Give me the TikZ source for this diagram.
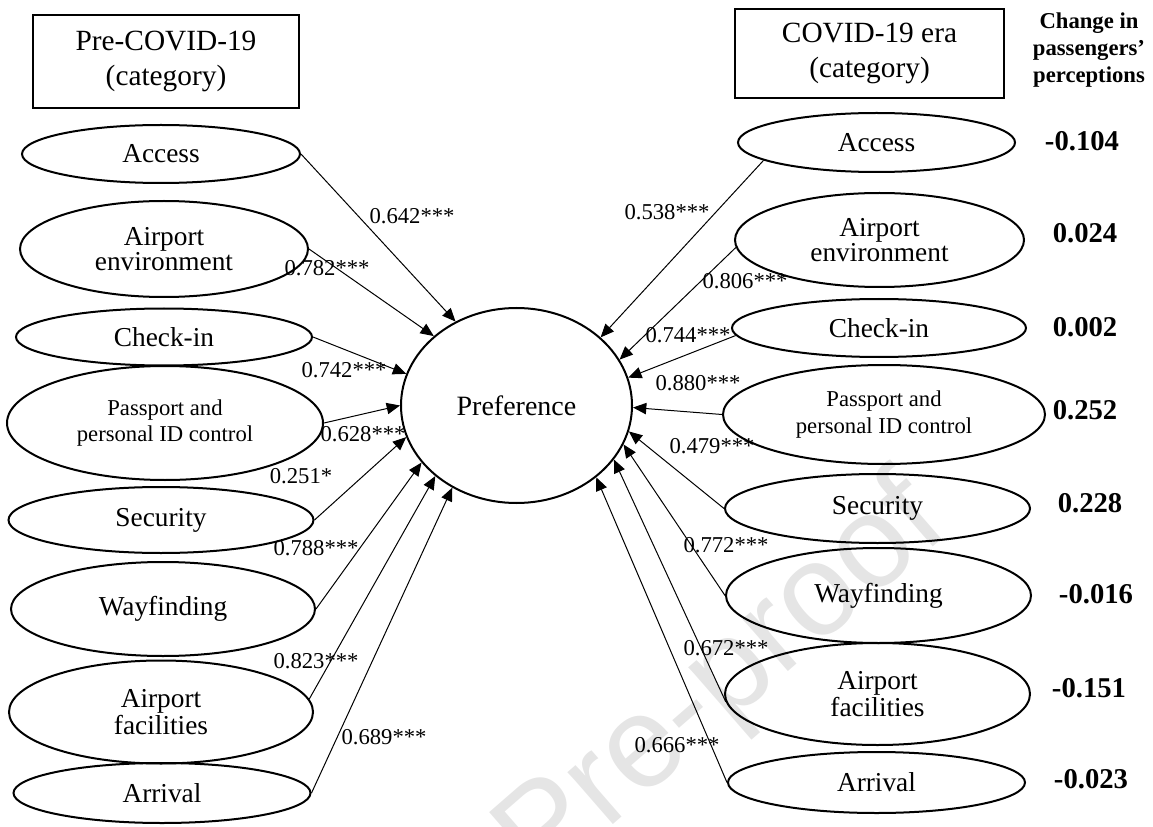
\documentclass[tikz,border=0pt]{standalone}
\usepackage{fontspec}
\setmainfont{Liberation Serif}
\newfontfamily\wmfont{Liberation Sans}
\usetikzlibrary{shapes.geometric,arrows.meta}

\begin{document}
\begin{tikzpicture}[x=0.75pt,y=-0.75pt,
  factor/.style={ellipse,draw,line width=1.5pt,inner sep=0pt,align=center,
    font=\fontsize{20.5pt}{17.5pt}\selectfont},
  small/.style={font=\fontsize{17pt}{20pt}\selectfont},
  central/.style={ellipse,draw,line width=1.5pt,inner sep=0pt,
    minimum width=173.25pt,minimum height=146.25pt,
    font=\fontsize{21pt}{25pt}\selectfont},
  titlebox/.style={rectangle,draw,line width=0.9pt,inner sep=0pt,align=center,
    font=\fontsize{22pt}{26.25pt}\selectfont},
  conn/.style={-{Triangle[length=10pt,width=8.5pt]},line width=0.75pt},
  coef/.style={inner sep=0pt,font=\fontsize{17pt}{20pt}\selectfont},
  delta/.style={inner sep=0pt,font=\bfseries\fontsize{21.5pt}{25pt}\selectfont},
  headnote/.style={inner sep=0pt,align=center,font=\bfseries\fontsize{17pt}{20.5pt}\selectfont},
  wm/.style={inner sep=0pt,text=black!10,font=\wmfont\fontsize{98pt}{100pt}\selectfont}]

\useasboundingbox (0,0) rectangle (1153,827);

% faint watermark behind the diagram
\begin{scope}
  \clip (0,0) rectangle (1153,827);
  \node[wm,rotate=41,anchor=base east] (wmark) at (952,530) {Pre-proof};
\end{scope}

% headings
\node[titlebox,minimum width=199.5pt,minimum height=69.75pt] (preT) at (166,61.5) {Pre-COVID-19\\(category)};
\node[titlebox,minimum width=201.75pt,minimum height=66.75pt] (covT) at (869.5,53.5) {COVID-19 era\\(category)};
\node[headnote] (chg) at (1089,50) {Change in\\passengers'\\perceptions};

% central construct
\node[central] (pref) at (516.5,405.5) {Preference};

% pre-COVID-19 factors
\node[factor,minimum width=208.5pt,minimum height=43.5pt] (lA) at (161,154) {Access};
\node[factor,minimum width=216pt,minimum height=72pt] (lE) at (164,249) {Airport\\environment};
\node[factor,minimum width=222pt,minimum height=42.75pt] (lC) at (164,337) {Check-in};
\node[factor,small,minimum width=237pt,minimum height=85.5pt] (lP) at (165,423) {Passport and\\personal ID control};
\node[factor,minimum width=228.75pt,minimum height=49.5pt] (lS) at (161,520) {Security};
\node[factor,minimum width=228pt,minimum height=70.5pt] (lW) at (163,609) {Wayfinding};
\node[factor,minimum width=228pt,minimum height=77.25pt] (lF) at (161,712) {Airport\\facilities};
\node[factor,minimum width=222.75pt,minimum height=45pt] (lR) at (162,793) {Arrival};

% COVID-19 era factors
\node[factor,minimum width=207.75pt,minimum height=44.25pt] (rA) at (876.5,142.5) {Access};
\node[factor,minimum width=216.75pt,minimum height=70.5pt] (rE) at (879.5,240) {Airport\\environment};
\node[factor,minimum width=220.5pt,minimum height=43.5pt] (rC) at (879,328) {Check-in};
\node[factor,small,minimum width=241.5pt,minimum height=74.25pt] (rP) at (884,414.5) {Passport and\\personal ID control};
\node[factor,minimum width=228.75pt,minimum height=51.75pt] (rS) at (877.5,508.5) {Security};
\node[factor,minimum width=228.75pt,minimum height=71.25pt] (rW) at (878.5,595.5) {Wayfinding};
\node[factor,minimum width=228.75pt,minimum height=76.5pt] (rF) at (877.5,694) {Airport\\facilities};
\node[factor,minimum width=222.75pt,minimum height=45.75pt] (rR) at (876.5,782.5) {Arrival};

% paths, pre-COVID-19
\draw[conn] (lA.east) -- (pref.126.4);
\draw[conn] (lE.east) -- (pref.140);
\draw[conn] (lC.east) -- (pref.164);
\draw[conn] (lP.east) -- (pref.180);
\draw[conn] (lS.east) -- (pref.196);
\draw[conn] (lW.east) -- (pref.211.8);
\draw[conn] (lF.5) -- (pref.221.7);
\draw[conn] (lR.east) -- (pref.232.1);

% paths, COVID-19 era
\draw[conn] (rA.189) -- (pref.39.4);
\draw[conn] (rE.183) -- (pref.24.9);
\draw[conn] (rC.183.5) -- (pref.14.8);
\draw[conn] (rP.west) -- (pref.-1.2);
\draw[conn] (rS.west) -- (pref.-13.7);
\draw[conn] (rW.west) -- (pref.-20.6);
\draw[conn] (rF.183.4) -- (pref.-29.3);
\draw[conn] (rR.west) -- (pref.-42.1);

% path coefficients, pre-COVID-19
\node[coef] (cl1) at (412,216) {0.642***};
\node[coef] (cl2) at (327,268) {0.782***};
\node[coef] (cl3) at (344,370) {0.742***};
\node[coef] (cl4) at (363,434) {0.628***};
\node[coef] (cl5) at (301,476) {0.251*};
\node[coef] (cl6) at (316,548) {0.788***};
\node[coef] (cl7) at (316,661) {0.823***};
\node[coef] (cl8) at (384,737) {0.689***};

% path coefficients, COVID-19 era
\node[coef] (cr1) at (667,212) {0.538***};
\node[coef] (cr2) at (745,281) {0.806***};
\node[coef] (cr3) at (688,335) {0.744***};
\node[coef] (cr4) at (698,383) {0.880***};
\node[coef] (cr5) at (712,446) {0.479***};
\node[coef] (cr6) at (726,545) {0.772***};
\node[coef] (cr7) at (726,648) {0.672***};
\node[coef] (cr8) at (677,745) {0.666***};

% change in perceptions
\node[delta] (d1) at (1082,141) {-0.104};
\node[delta] (d2) at (1085,233) {0.024};
\node[delta] (d3) at (1085,327) {0.002};
\node[delta] (d4) at (1085,410) {0.252};
\node[delta] (d5) at (1090,503) {0.228};
\node[delta] (d6) at (1096,594) {-0.016};
\node[delta] (d7) at (1089,688) {-0.151};
\node[delta] (d8) at (1091,779) {-0.023};
\end{tikzpicture}
\end{document}
